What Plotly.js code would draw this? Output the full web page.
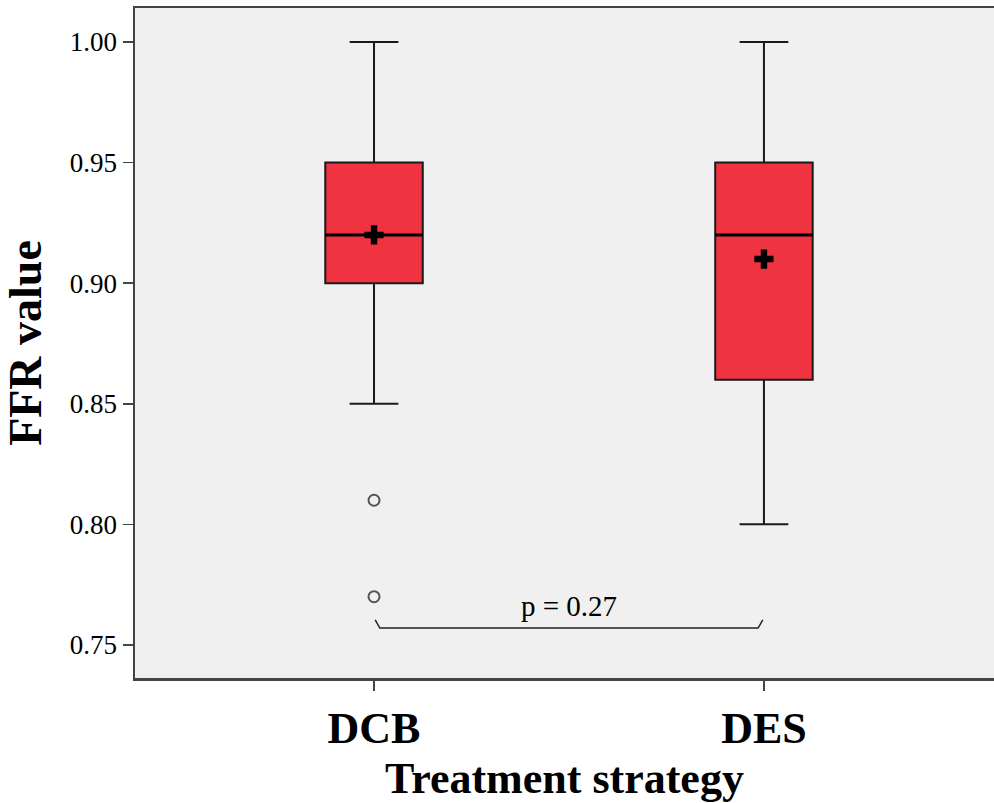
<!DOCTYPE html>
<html>
<head>
<meta charset="utf-8">
<script src="https://cdn.plot.ly/plotly-3.0.1.min.js"></script>
<style>html,body{margin:0;padding:0;background:#fff;}#chart{width:994px;height:803px;}</style>
</head>
<body>
<div id="chart"></div>
<script>
// Data
const categories = ["DCB", "DES"];
const q1Values = [0.90, 0.86];
const medianValues = [0.92, 0.92];
const q3Values = [0.95, 0.95];
const lowerFences = [0.85, 0.80];
const upperFences = [1.00, 1.00];
const meanValues = [0.92, 0.91];
const outlierGroup = [0, 0];
const outlierValues = [0.81, 0.77];
const yTickVals = [0.75, 0.80, 0.85, 0.90, 0.95, 1.00];
const yTickText = ["0.75", "0.80", "0.85", "0.90", "0.95", "1.00"];
const pLabel = "p = 0.27";
const bracketX = [0.003, 0.015, 0.985, 0.997];
const bracketY = [0.7604, 0.757, 0.757, 0.7604];
const pLabelY = 0.7662;

const xPos = categories.map((c, i) => i);
const boxWidth = 0.25;
const serif = "Liberation Serif, Times New Roman, serif";

const traces = [];
traces.push({
  type: "box",
  x: xPos,
  q1: q1Values,
  median: medianValues,
  q3: q3Values,
  lowerfence: lowerFences,
  upperfence: upperFences,
  width: boxWidth,
  whiskerwidth: 0.5,
  fillcolor: "#ef3340",
  line: {color: "#1a1a1a", width: 2},
  boxpoints: false,
  hoverinfo: "skip",
  showlegend: false
});
// thicker median lines
xPos.forEach((x, i) => {
  traces.push({
    type: "scatter", mode: "lines",
    x: [x - boxWidth / 2, x + boxWidth / 2],
    y: [medianValues[i], medianValues[i]],
    line: {color: "#000", width: 3},
    hoverinfo: "skip", showlegend: false
  });
});
traces.push({
  type: "scatter", mode: "markers",
  x: outlierGroup.map(g => xPos[g]),
  y: outlierValues,
  marker: {symbol: "circle-open", size: 11, color: "#555", line: {width: 2, color: "#555"}},
  hoverinfo: "skip", showlegend: false
});
traces.push({
  type: "scatter", mode: "markers",
  x: xPos,
  y: meanValues,
  marker: {symbol: "cross", size: 16, color: "#000", line: {width: 0}},
  hoverinfo: "skip", showlegend: false
});
traces.push({
  type: "scatter", mode: "lines",
  x: bracketX, y: bracketY,
  line: {color: "#222", width: 1.5},
  hoverinfo: "skip", showlegend: false
});

const layout = {
  width: 994, height: 803,
  margin: {l: 135, r: 0, t: 8, b: 125},
  paper_bgcolor: "#fff",
  plot_bgcolor: "#f0f0f0",
  showlegend: false,
  xaxis: {
    range: [-0.613, 1.590],
    tickvals: xPos,
    ticktext: categories,
    ticks: "outside", ticklen: 10, tickwidth: 1.5, tickcolor: "#444",
    tickfont: {family: serif, size: 44, color: "#000", weight: "bold"},
    showgrid: false, zeroline: false,
    showline: true, mirror: true, linecolor: "#444", linewidth: 2.5,
    title: {text: "<b>Treatment strategy</b>", font: {family: serif, size: 44, color: "#000"}, standoff: 16},
    fixedrange: true
  },
  yaxis: {
    range: [0.7363, 1.0141],
    tickvals: yTickVals,
    ticktext: yTickText,
    ticks: "outside", ticklen: 10, tickwidth: 1.5, tickcolor: "#444",
    tickfont: {family: serif, size: 27, color: "#000"},
    showgrid: false, zeroline: false,
    showline: true, mirror: false, linecolor: "#444", linewidth: 2.5,
    title: {text: "<b>FFR value</b>", font: {family: serif, size: 46, color: "#000"}, standoff: 14},
    fixedrange: true
  },
  annotations: [{
    x: 0.5, y: pLabelY, xref: "x", yref: "y",
    text: pLabel, showarrow: false,
    font: {family: serif, size: 29, color: "#000"}
  }]
};

Plotly.newPlot("chart", traces, layout, {displayModeBar: false, staticPlot: true});
</script>
</body>
</html>
